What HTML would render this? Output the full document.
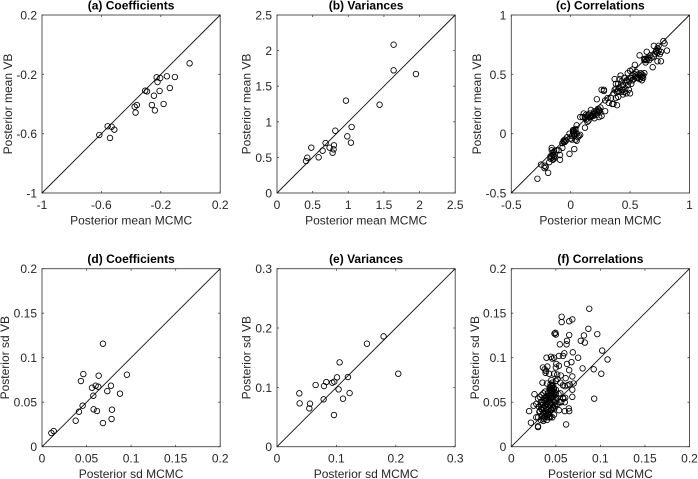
<!DOCTYPE html>
<html lang="en">
<head>
<meta charset="utf-8">
<title>Posterior comparison VB vs MCMC</title>
<style>
html,body{margin:0;padding:0;background:#fff;}
#figure{display:block;width:698px;height:479px;font-family:"Liberation Sans",sans-serif;filter:blur(0.35px);}
text{font-family:"Liberation Sans",sans-serif;}
</style>
</head>
<body>
<svg id="figure" xmlns="http://www.w3.org/2000/svg" width="698" height="479" viewBox="0 0 698 479"></svg>
<script>
// Panel (a)
const coefMeanMcmc = [-0.006,-0.105,-0.159,-0.228,-0.204,-0.222,-0.139,-0.208,-0.305,-0.293,-0.246,-0.181,-0.26,-0.361,-0.376,-0.37,-0.24,-0.558,-0.531,-0.513,-0.614,-0.542];
const coefMeanVb = [-0.126,-0.218,-0.213,-0.22,-0.225,-0.252,-0.292,-0.312,-0.31,-0.315,-0.344,-0.4,-0.407,-0.407,-0.418,-0.458,-0.443,-0.55,-0.553,-0.573,-0.609,-0.629];
const coefMeanTicks = ["-1","-0.6","-0.2","0.2"];

// Panel (b)
const varMeanMcmc = [1.636,1.636,1.949,0.967,1.439,0.818,1.047,0.986,1.037,0.682,0.799,0.481,0.738,0.794,0.64,0.78,0.584,0.425,0.407];
const varMeanVb = [2.083,1.723,1.671,1.297,1.24,0.875,0.927,0.796,0.707,0.702,0.67,0.637,0.637,0.613,0.594,0.566,0.501,0.496,0.449];
const varMeanTicks = ["0","0.5","1","1.5","2","2.5"];

// Panel (c)
const corrMeanMcmc = [
-.28,-.25,-.22,-.22,-.21,-.19,-.18,-.17,-.16,-.16,
-.17,-.15,-.15,-.14,-.14,-.13,-.12,-.10,-.09,-.09,
-.07,-.06,-.05,-.04,-.05,-.03,-.01,.03,-.01,.01,
.01,.02,.02,.03,.03,.04,.04,.05,.05,.06,
.05,.07,.08,.08,.10,.11,.12,.12,.13,.14,
.14,.15,.16,.16,.17,.17,.18,.19,.20,.20,
.21,.22,.22,.23,.24,.24,.25,.25,.26,.26,
.28,.28,.29,.29,.31,.32,.34,.35,.36,.36,
.37,.37,.38,.38,.39,.39,.40,.40,.41,.41,
.42,.42,.43,.43,.44,.44,.45,.45,.46,.47,
.47,.48,.48,.49,.49,.50,.50,.51,.51,.52,
.52,.53,.54,.54,.55,.55,.56,.57,.58,.58,
.59,.60,.60,.61,.62,.62,.63,.64,.64,.58,
.66,.67,.68,.69,.70,.70,.71,.72,.73,.73,
.74,.74,.75,.76,.76,.78,.79,.81,.72,.73,
.44,.46,.40,.38,.50,.52,.55,.57,.60,.61,
.15,.17,.19,.22,.23,.24,.13,.12,.04,.02,
-.16,-.15,-.14,-.06,-.07,.0,.03,.62,.63,.65];
const corrMeanVb = [
-.38,-.26,-.27,-.29,-.28,-.33,-.24,-.19,-.12,-.14,
-.21,-.22,-.16,-.19,-.15,-.20,-.14,-.14,-.18,-.22,
-.12,-.07,-.07,-.06,-.05,-.03,-.17,-.13,0,-.02,
-.05,.01,.03,.02,-.02,.04,-.05,-.06,0,-.03,
.07,-.02,-.01,.14,.14,.17,.05,.13,.12,.15,
.10,.11,.14,.17,.15,.20,.15,.17,.13,.19,
.17,.16,.29,.21,.19,.14,.22,.18,.15,.37,
.37,.36,.19,.28,.30,.26,.30,.25,.25,.34,
.37,.46,.30,.42,.24,.35,.36,.31,.39,.46,
.49,.35,.44,.37,.33,.41,.47,.35,.38,.34,
.45,.51,.41,.44,.37,.53,.34,.47,.42,.49,
.54,.46,.58,.50,.52,.47,.47,.50,.46,.49,
.51,.45,.48,.47,.51,.63,.60,.62,.69,.66,
.62,.66,.64,.56,.65,.74,.67,.69,.72,.61,
.74,.70,.67,.61,.69,.78,.76,.70,.70,.68,
.37,.43,.42,.38,.47,.45,.49,.47,.50,.49,
.16,.14,.15,.19,.18,.20,.16,.14,.03,.02,
-.20,-.18,-.21,-.06,-.08,-.04,.0,.62,.63,.64];
const corrMeanTicks = ["-0.5","0","0.5","1"];

// Panel (d)
const coefSdMcmc = [.0684,.0464,.0636,.0953,.0437,.0602,.0561,.0632,.0774,.0733,.0875,.0576,.0456,.0579,.0617,.0785,.0781,.0415,.0378,.0684,.0131,.0105];
const coefSdVb = [.1157,.0816,.0798,.0809,.0738,.0685,.0663,.0674,.0685,.0625,.0596,.0573,.0461,.042,.0401,.0416,.0311,.0393,.0292,.0266,.0176,.0154];
const coefSdTicks = ["0","0.05","0.1","0.15","0.2"];

// Panel (e)
const varSdMcmc = [.1794,.1514,.2041,.1054,.1194,.101,.083,.0964,.0931,.065,.0791,.1037,.1222,.0376,.0381,.0555,.0544,.0785,.1111,.0959];
const varSdVb = [.186,.1736,.123,.1421,.1174,.1169,.109,.1096,.1079,.104,.1022,.0966,.0904,.0899,.073,.0725,.0646,.0798,.0809,.0534];
const varSdTicks = ["0","0.1","0.2","0.3"];

// Panel (f)
const corrSdMcmc = [
.0875,.0565,.0565,.0685,.065,.0865,.0965,.0485,.0495,.05,
.065,.0815,.078,.0825,.0625,.062,.0545,.069,.102,.108,
.075,.0595,.058,.0535,.0395,.0445,.046,.048,.0675,.0625,
.0505,.0535,.0405,.0355,.05,.08,.0925,.101,.065,.0375,
.039,.0385,.0425,.048,.0515,.0555,.061,.0685,.07,.0655,
.093,.0615,.0685,.0685,.0645,.0605,.0585,.065,.06,.0535,
.052,.055,.05,.047,.046,.058,.06,.063,.035,.04,
.045,.043,.048,.05,.044,.046,.042,.047,.05,.053,
.038,.036,.034,.032,.03,.026,.028,.033,.037,.04,
.02,.025,.022,.028,.03,.03,.03,.033,.036,.038,
.04,.042,.044,.046,.048,.041,.043,.045,.047,.049,
.04,.042,.044,.046,.048,.036,.038,.034,.032,.05,
.041,.043,.045,.047,.049,.039,.037,.035,.033,.031,
.044,.046,.048,.043,.045,.047,.042,.044,.041,.04,
.052,.054,.056,.058,.06,.055,.045,.05,.036,.039,
.0435,.0455,.0475,.0445,.0425,.0465,.0485,.0405,.0385,.0365,
.0435,.0455,.0415,.0395,.0375,.0355,.0335,.0315,.0345,.0365,
.0425,.0445,.0465,.0405,.0385,.0415,.0435,.0455,.0475,.0395];
const corrSdVb = [
.155,.146,.14,.143,.141,.1325,.1265,.127,.128,.126,
.1255,.125,.119,.117,.119,.115,.115,.106,.108,.098,
.1,.105,.102,.102,.1,.101,.099,.1,.095,.093,
.093,.091,.09,.089,.089,.088,.087,.082,.086,.087,
.085,.083,.082,.082,.081,.08,.077,.079,.071,.07,
.054,.025,.064,.056,.043,.055,.054,.04,.04,.041,
.076,.072,.074,.069,.072,.069,.068,.069,.072,.071,
.068,.066,.065,.064,.063,.062,.061,.06,.06,.059,
.062,.06,.058,.056,.054,.059,.048,.05,.052,.057,
.04,.046,.027,.033,.023,.022,.033,.03,.029,.035,
.03,.033,.034,.033,.036,.038,.04,.042,.044,.046,
.05,.052,.054,.056,.058,.044,.046,.042,.04,.052,
.06,.058,.055,.053,.05,.048,.055,.05,.047,.045,
.07,.066,.062,.064,.06,.057,.056,.05,.045,.035,
.048,.05,.05,.055,.05,.06,.075,.055,.038,.042,
.067,.063,.059,.054,.049,.047,.043,.041,.037,.033,
.064,.061,.057,.053,.051,.047,.043,.039,.035,.031,
.037,.041,.043,.048,.044,.036,.033,.069,.066,.055];
const corrSdTicks = ["0","0.05","0.1","0.15","0.2"];

const panels = [
  {id:"a",title:"(a) Coefficients",xl:"Posterior mean MCMC",yl:"Posterior mean VB",xs:coefMeanMcmc,ys:coefMeanVb,ticks:coefMeanTicks,left:42,top:15,ylx:8},
  {id:"b",title:"(b) Variances",xl:"Posterior mean MCMC",yl:"Posterior mean VB",xs:varMeanMcmc,ys:varMeanVb,ticks:varMeanTicks,left:277,top:15,ylx:246.5},
  {id:"c",title:"(c) Correlations",xl:"Posterior mean MCMC",yl:"Posterior mean VB",xs:corrMeanMcmc,ys:corrMeanVb,ticks:corrMeanTicks,left:511.3,top:15,ylx:477},
  {id:"d",title:"(d) Coefficients",xl:"Posterior sd MCMC",yl:"Posterior sd VB",xs:coefSdMcmc,ys:coefSdVb,ticks:coefSdTicks,left:42,top:268.7,ylx:5},
  {id:"e",title:"(e) Variances",xl:"Posterior sd MCMC",yl:"Posterior sd VB",xs:varSdMcmc,ys:varSdVb,ticks:varSdTicks,left:277,top:268.7,ylx:246.5},
  {id:"f",title:"(f) Correlations",xl:"Posterior sd MCMC",yl:"Posterior sd VB",xs:corrSdMcmc,ys:corrSdVb,ticks:corrSdTicks,left:511.3,top:268.7,ylx:475}
];

const NS = "http://www.w3.org/2000/svg";
const W = 178.2, H = 178;
const root = document.getElementById("figure");

function make(parent, tag, attrs) {
  const el = document.createElementNS(NS, tag);
  for (const k in attrs) el.setAttribute(k, attrs[k]);
  parent.appendChild(el);
  return el;
}

function drawPanel(p) {
  const nums = p.ticks.map(Number);
  const lo = Math.min.apply(null, nums), hi = Math.max.apply(null, nums);
  const sx = v => p.left + (v - lo) / (hi - lo) * W;
  const sy = v => p.top + H - (v - lo) / (hi - lo) * H;

  const g = make(root, "g", {});
  
  

  const title = make(g, "text", {x:p.left + W/2, y:p.top - 5.5, "text-anchor":"middle", "font-size":12, "font-weight":"bold", fill:"#000"});
  title.textContent = p.title;
  
  

  const frame = make(g, "rect", {x:p.left, y:p.top, width:W, height:H, fill:"#fff", stroke:"#444", "stroke-width":0.9});
  
  

  p.ticks.forEach((t, i) => {
    const v = nums[i];
    const px = sx(v), py = sy(v);
    const ticks = make(g, "path", {d:`M${px} ${p.top+H}v-2M${px} ${p.top}v2M${p.left} ${py}h2M${p.left+W} ${py}h-2`, stroke:"#444", "stroke-width":0.8, fill:"none"});
    
    
    const xt = make(g, "text", {x:px, y:p.top+H+16, "text-anchor":"middle", "font-size":12, fill:"#262626"});
    xt.textContent = t;
    
    
    const yt = make(g, "text", {x:p.left-5, y:py+4.5, "text-anchor":"end", "font-size":12, fill:"#262626"});
    yt.textContent = t;
    
    
  });

  const diag = make(g, "line", {x1:sx(lo), y1:sy(lo), x2:sx(hi), y2:sy(hi), stroke:"#111", "stroke-width":0.9});
  
  

  p.xs.forEach((x, i) => {
    const c = make(g, "circle", {cx:sx(x), cy:sy(p.ys[i]), r:2.75, fill:"none", stroke:"#000", "stroke-width":0.85});
    
    
  });

  const xl = make(g, "text", {x:p.left + W/2, y:p.top+H+31.5, "text-anchor":"middle", "font-size":12, fill:"#262626"});
  xl.textContent = p.xl;
  
  

  const cy = p.top + H/2;
  const yl = make(g, "text", {x:p.ylx + 4.2, y:cy, "text-anchor":"middle", "font-size":12, fill:"#262626", transform:`rotate(-90 ${p.ylx + 4.2} ${cy})`});
  yl.textContent = p.yl;
  
  
}

panels.forEach(drawPanel);
</script>
</body>
</html>
